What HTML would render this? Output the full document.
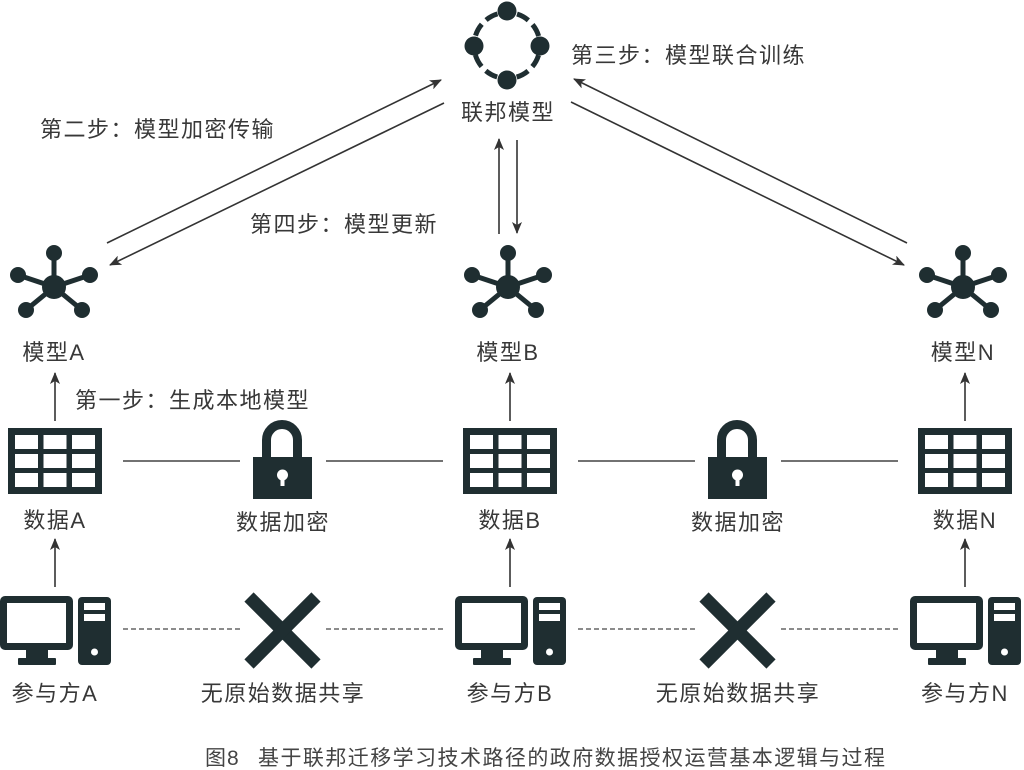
<!DOCTYPE html>
<html><head><meta charset="utf-8"><style>
html,body{margin:0;padding:0;background:#fff;}
svg{display:block;}
text{font-family:"Liberation Sans","Noto Sans CJK SC",sans-serif;fill:#383838;font-size:22px;letter-spacing:1.5px;}
</style></head><body>
<svg width="1024" height="770" viewBox="0 0 1024 770" xmlns="http://www.w3.org/2000/svg">
<defs>
<marker id="ah" markerWidth="12" markerHeight="10" refX="11" refY="5" orient="auto" markerUnits="userSpaceOnUse">
<path d="M0,0 L12,5 L0,10 L3,5 Z" fill="#333"/>
</marker>
<g id="star" fill="#1f2e31" stroke="#1f2e31">
<line x1="0" y1="0" x2="0" y2="-34" stroke-width="5"/>
<line x1="0" y1="0" x2="-36" y2="-12" stroke-width="5"/>
<line x1="0" y1="0" x2="36" y2="-12" stroke-width="5"/>
<line x1="0" y1="0" x2="-28" y2="23" stroke-width="5"/>
<line x1="0" y1="0" x2="28" y2="23" stroke-width="5"/>
<circle r="12" stroke="none"/>
<circle cx="0" cy="-34" r="8" stroke="none"/>
<circle cx="-36" cy="-12" r="8" stroke="none"/>
<circle cx="36" cy="-12" r="8" stroke="none"/>
<circle cx="-28" cy="23" r="8" stroke="none"/>
<circle cx="28" cy="23" r="8" stroke="none"/>
</g>
<g id="grid">
<rect x="0" y="0" width="94" height="66" fill="#1f2e31"/>
<g fill="#fff">
<rect x="7" y="7" width="23" height="14"/><rect x="35.5" y="7" width="23" height="14"/><rect x="64" y="7" width="23" height="14"/>
<rect x="7" y="26" width="23" height="14"/><rect x="35.5" y="26" width="23" height="14"/><rect x="64" y="26" width="23" height="14"/>
<rect x="7" y="45" width="23" height="14"/><rect x="35.5" y="45" width="23" height="14"/><rect x="64" y="45" width="23" height="14"/>
</g>
</g>
<g id="pc" fill="#1f2e31">
<rect x="0" y="596" width="73" height="54" rx="5"/>
<rect x="7" y="603" width="59" height="40" fill="#fff"/>
<rect x="26" y="650" width="22" height="10"/>
<rect x="18" y="658" width="38" height="7" rx="1"/>
<rect x="78" y="597" width="33" height="68" rx="4"/>
<rect x="84" y="603" width="21" height="7" fill="#fff"/>
<rect x="84" y="614" width="21" height="7" fill="#fff"/>
<circle cx="94.5" cy="652" r="3.5" fill="#fff"/>
</g>
<g id="lock">
<path d="M266.5,458 V440 A15.5,15.5 0 0 1 297.5,440 V458" fill="none" stroke="#1f2e31" stroke-width="9"/>
<rect x="253" y="457" width="59" height="42" fill="#1f2e31"/>
<circle cx="282.5" cy="475" r="5.5" fill="#fff"/>
<rect x="280.5" y="475" width="4" height="11" fill="#fff"/>
</g>
<g id="xx" stroke="#1f2e31" stroke-width="13">
<line x1="249" y1="597" x2="316" y2="664"/>
<line x1="316" y1="597" x2="249" y2="664"/>
</g>
</defs>

<!-- federated ring -->
<circle cx="507" cy="45.5" r="33" fill="none" stroke="#1f2e31" stroke-width="5" stroke-dasharray="13 6 13 19.84" stroke-dashoffset="41.92"/>
<g fill="#1f2e31">
<circle cx="507" cy="11" r="9.5"/><circle cx="474" cy="46" r="9.5"/><circle cx="540" cy="46" r="9.5"/><circle cx="507" cy="80" r="9.5"/>
</g>
<text x="508" y="120" text-anchor="middle">联邦模型</text>
<text x="571" y="63">第三步：模型联合训练</text>
<text x="40" y="137">第二步：模型加密传输</text>
<text x="250" y="232">第四步：模型更新</text>

<!-- arrows -->
<g stroke="#333" stroke-width="1.6" fill="none">
<line x1="107" y1="243" x2="441" y2="80" marker-end="url(#ah)"/>
<line x1="444" y1="103" x2="110" y2="265" marker-end="url(#ah)"/>
<line x1="499" y1="234" x2="499" y2="139" marker-end="url(#ah)"/>
<line x1="517" y1="140" x2="517" y2="233" marker-end="url(#ah)"/>
<line x1="907" y1="243" x2="574" y2="79" marker-end="url(#ah)"/>
<line x1="571" y1="102" x2="904" y2="265" marker-end="url(#ah)"/>
<line x1="55" y1="421" x2="55" y2="373" marker-end="url(#ah)"/>
<line x1="510" y1="421" x2="510" y2="373" marker-end="url(#ah)"/>
<line x1="965" y1="421" x2="965" y2="373" marker-end="url(#ah)"/>
<line x1="55" y1="587" x2="55" y2="539" marker-end="url(#ah)"/>
<line x1="510" y1="587" x2="510" y2="539" marker-end="url(#ah)"/>
<line x1="965" y1="587" x2="965" y2="539" marker-end="url(#ah)"/>
</g>

<use href="#star" x="54" y="287"/>
<use href="#star" x="508" y="287"/>
<use href="#star" x="963" y="287"/>
<text x="54" y="360" text-anchor="middle">模型A</text>
<text x="508" y="360" text-anchor="middle">模型B</text>
<text x="963" y="360" text-anchor="middle">模型N</text>
<text x="75" y="408">第一步：生成本地模型</text>

<use href="#grid" x="8" y="428"/>
<use href="#grid" x="463" y="428"/>
<use href="#grid" x="918" y="428"/>
<g stroke="#444" stroke-width="1.6">
<line x1="123" y1="461" x2="240" y2="461"/><line x1="326" y1="461" x2="443" y2="461"/>
<line x1="578" y1="461" x2="695" y2="461"/><line x1="781" y1="461" x2="898" y2="461"/>
</g>
<use href="#lock"/>
<use href="#lock" x="455"/>
<text x="55" y="528" text-anchor="middle">数据A</text>
<text x="510" y="528" text-anchor="middle">数据B</text>
<text x="965" y="528" text-anchor="middle">数据N</text>
<text x="283" y="530" text-anchor="middle">数据加密</text>
<text x="738" y="530" text-anchor="middle">数据加密</text>

<use href="#pc"/>
<use href="#pc" x="455"/>
<use href="#pc" x="910"/>
<g stroke="#666" stroke-width="1.6" stroke-dasharray="5 3">
<line x1="123" y1="629" x2="240" y2="629"/><line x1="326" y1="629" x2="443" y2="629"/>
<line x1="578" y1="629" x2="695" y2="629"/><line x1="781" y1="629" x2="898" y2="629"/>
</g>
<use href="#xx"/>
<use href="#xx" x="455"/>
<text x="55" y="701" text-anchor="middle">参与方A</text>
<text x="510" y="701" text-anchor="middle">参与方B</text>
<text x="965" y="701" text-anchor="middle">参与方N</text>
<text x="283" y="701" text-anchor="middle">无原始数据共享</text>
<text x="738" y="701" text-anchor="middle">无原始数据共享</text>

<text x="205" y="765" style="font-size:21px;letter-spacing:1px;fill:#444">图8</text>
<text x="258" y="765" textLength="627" lengthAdjust="spacing" style="font-size:21px;letter-spacing:0;fill:#444">基于联邦迁移学习技术路径的政府数据授权运营基本逻辑与过程</text>
</svg>
</body></html>
